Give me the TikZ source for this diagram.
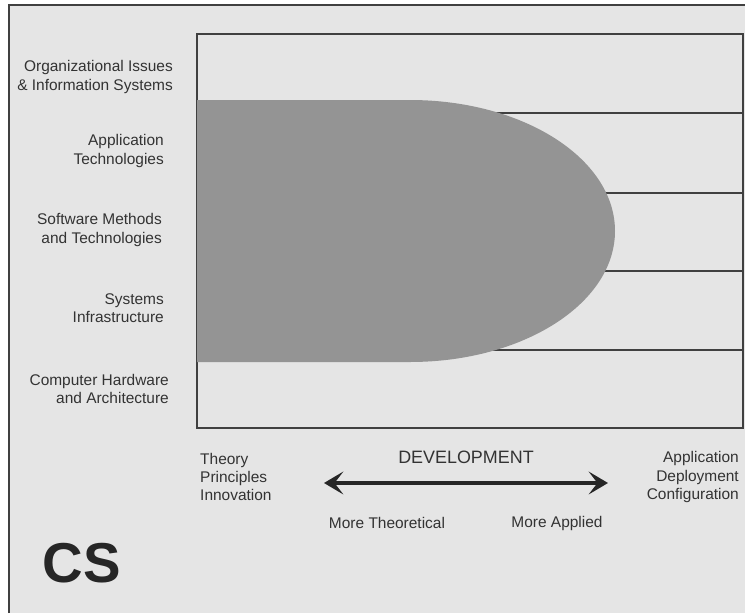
\documentclass[tikz,border=0pt]{standalone}
\usepackage{fontspec}
\setmainfont{Liberation Sans}
\usetikzlibrary{arrows.meta}
\begin{document}
\begin{tikzpicture}[%
        x=0.02cm, y=-0.02cm,
        area/.style={align=right, anchor=east, text=black!80,
            font=\fontsize{8.8}{10.3}\selectfont},
        axislabel/.style={text=black!80, font=\fontsize{8.8}{10.3}\selectfont},
        rule/.style={draw=black!75, line width=0.8pt}
    ]
    \useasboundingbox (0,0) rectangle (745,613);
    \fill [black!10] (9,5) rectangle (745,613);
    \draw [black!75, line width=1.6pt] (9,613) -- (9,5) -- (745,5);
    % field box and the row rules
    \draw [rule] (197,34) rectangle (743,428);
    \foreach \y in {113,193,271,350}
        \draw [rule] (420,\y) -- (743,\y);
    % the covered region (y runs downwards, so the angles are mirrored)
    \fill [black!42] (197,100) -- (410,100)
        arc [start angle=-90, end angle=90, x radius=205, y radius=131]
        -- (197,362) -- cycle;
    % rows
    \node [area] (org) at (179,77) {Organizational Issues\\\& Information Systems};
    \node [area] (apptech) at (170,151) {Application\\Technologies};
    \node [area] (soft) at (168,230) {Software Methods\\and Technologies};
    \node [area] (infra) at (170,308) {Systems\\Infrastructure};
    \node [area] (hard) at (175,389) {Computer Hardware\\and Architecture};
    % development axis
    \node [axislabel, align=left, anchor=west] (theory) at (194,477) {Theory\\Principles\\Innovation};
    \node [axislabel, align=right, anchor=east] (practice) at (745,477) {Application\\Deployment\\Configuration};
    \node [axislabel, font=\fontsize{10.2}{12}\selectfont] (devel) at (466,457) {DEVELOPMENT};
    \coordinate (theo end) at (324,483);
    \coordinate (appl end) at (608,483);
    \draw [black!85, line width=2.3pt,
        {Stealth[length=11pt, width=13pt, inset=5pt]}-{Stealth[length=11pt, width=13pt, inset=5pt]}]
        (theo end) -- (appl end);
    \node [axislabel] (moretheo) at (387,523) {More Theoretical};
    \node [axislabel] (moreappl) at (557,523) {More Applied};
    \node [text=black!85, font=\fontsize{32}{36}\selectfont\bfseries] (cs) at (82,563) {CS};
\end{tikzpicture}
\end{document}
